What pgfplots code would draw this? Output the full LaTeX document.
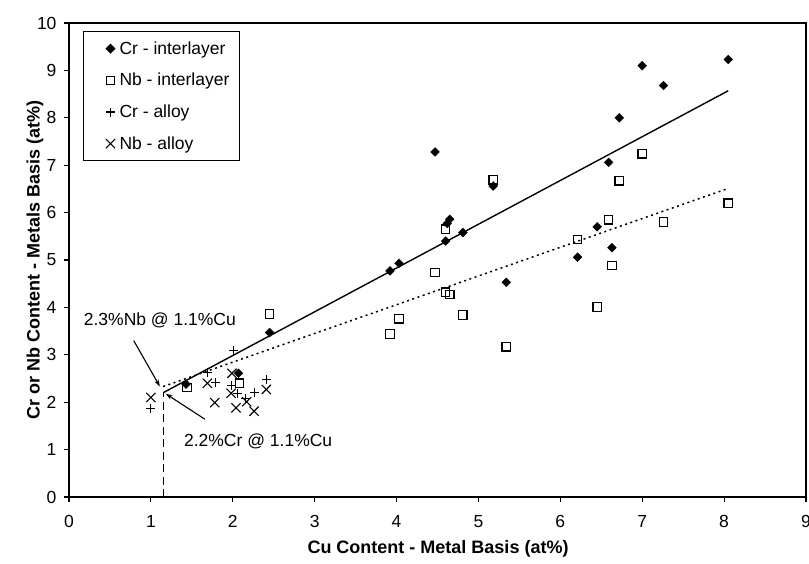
\documentclass[border=0pt]{standalone}
\usepackage{fontspec}
\setmainfont{Liberation Sans}
\usepackage{pgfplots}
\pgfplotsset{compat=1.18}
\usetikzlibrary{arrows.meta}

\begin{document}
\begin{tikzpicture}
\begin{axis}[
    scale only axis,
    width=737pt, height=474pt,
    xmin=0, xmax=9, ymin=0, ymax=10,
    xtick={0,1,...,9}, ytick={0,1,...,10},
    tick align=outside, tick pos=left,
    major tick length=5pt,
    axis line style={line width=1.4pt},
    every tick/.style={black, line width=1.2pt},
    tick label style={font=\fontsize{17.5}{20}\selectfont},
    xticklabel style={yshift=-10pt},
    yticklabel style={xshift=-4pt},
    /pgf/number format/assume math mode=true,
    xlabel={Cu Content - Metal Basis (at\%)},
    ylabel={Cr or Nb Content - Metals Basis (at\%)},
    label style={font=\bfseries\fontsize{18}{21}\selectfont},
    xlabel style={at={(axis description cs:0.5007,-0.11)}, anchor=center},
    ylabel style={at={(axis description cs:-0.046,0.5)}, anchor=center},
    legend cell align=left,
    legend image code/.code={
        \path[#1, draw=none] plot coordinates {(0pt,0pt)};
        \path[draw=none] (-19pt,0pt) -- (7pt,0pt);
    },
    legend style={at={(rel axis cs:0.019,0.983)}, anchor=north west,
        draw=black, line width=1pt, font=\fontsize{17.5}{20}\selectfont,
        row sep=13.5pt, inner xsep=8pt, inner ysep=8pt},
]

% Cr - interlayer
\addplot[only marks, mark=square*, mark size=3.1pt, mark options={rotate=45, fill=black, draw=black}]
coordinates {
(1.43,2.38)(2.07,2.61)(2.45,3.47)(3.92,4.77)(4.03,4.93)
(4.47,7.28)(4.60,5.40)(4.62,5.77)(4.65,5.86)(4.81,5.58)
(5.18,6.56)(5.34,4.53)(6.21,5.06)(6.45,5.70)(6.59,7.06)
(6.63,5.26)(6.72,8.00)(7.00,9.10)(7.26,8.68)(8.05,9.23)
};
\addlegendentry{Cr - interlayer}

% Nb - interlayer
\addplot[only marks, mark=square, mark size=4.2pt, mark options={line width=1.2pt, draw=black, fill=white}]
coordinates {
(1.44,2.31)(2.08,2.40)(2.45,3.86)(3.92,3.44)(4.03,3.76)
(4.47,4.74)(4.60,4.32)(4.65,4.27)(4.60,5.65)(4.81,3.84)
(5.18,6.69)(5.34,3.17)(6.21,5.43)(6.45,4.01)(6.59,5.85)
(6.63,4.88)(6.72,6.67)(7.00,7.24)(7.26,5.80)(8.05,6.20)
};
\addlegendentry{Nb - interlayer}

% Cr - alloy
\addplot[only marks, mark=+, mark size=4.5pt, mark options={line width=1.1pt, draw=black}]
coordinates {
(1.00,1.87)(1.69,2.62)(1.79,2.41)(1.98,2.36)(2.01,3.10)
(2.06,2.19)(2.16,2.08)(2.27,2.20)(2.41,2.47)
};
\addlegendentry{Cr - alloy}

% Nb - alloy
\addplot[only marks, mark=x, mark size=6.5pt, mark options={line width=1.1pt, draw=black}]
coordinates {
(1.00,2.10)(1.69,2.40)(1.78,1.99)(1.99,2.61)(1.98,2.19)
(2.04,1.88)(2.17,2.01)(2.26,1.81)(2.41,2.27)
};
\addlegendentry{Nb - alloy}

% trend lines
\addplot[forget plot, black, line width=1.4pt] coordinates {(1.15,2.20)(8.05,8.57)};
\addplot[forget plot, black, line width=1.5pt, dash pattern=on 2pt off 3.5pt] coordinates {(1.15,2.33)(8.05,6.51)};
\addplot[forget plot, black, line width=1.3pt, dash pattern=on 8pt off 4.5pt] coordinates {(1.15,0)(1.15,2.20)};

% annotations
\draw[line width=1.1pt, -{Stealth[length=7pt,width=4.5pt]}] (axis cs:0.79,3.30) -- (axis cs:1.11,2.33);
\draw[line width=1.1pt, -{Stealth[length=7pt,width=4.5pt]}] (axis cs:1.66,1.64) -- (axis cs:1.18,2.18);
\node[font=\fontsize{17.5}{20}\selectfont, anchor=center] at (axis cs:1.11,3.72) {2.3\%Nb @ 1.1\%Cu};
\node[font=\fontsize{17.5}{20}\selectfont, anchor=center] at (axis cs:2.31,1.17) {2.2\%Cr @ 1.1\%Cu};
\end{axis}
\pgfresetboundingbox
\useasboundingbox (-69pt,-66pt) rectangle (740pt,497pt);
\end{tikzpicture}
\end{document}
